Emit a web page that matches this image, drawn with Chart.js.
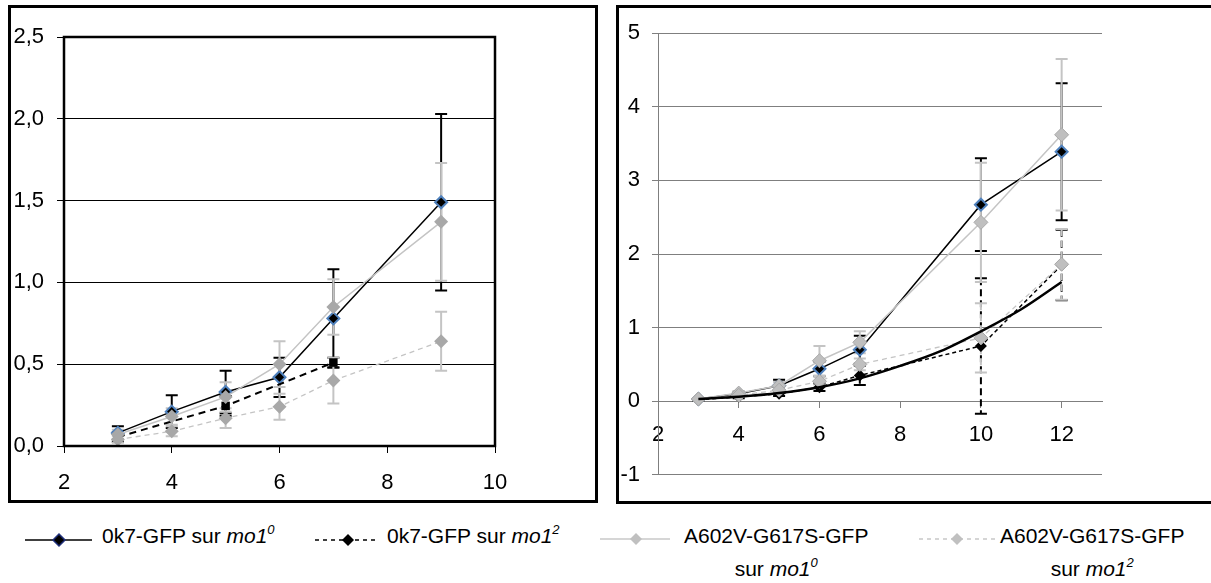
<!DOCTYPE html>
<html>
<head>
<meta charset="utf-8">
<script src="https://cdn.jsdelivr.net/npm/chart.js@4"></script>
<style>
    body { margin: 0; background: #fff; width: 1211px; height: 583px; overflow: hidden; position: relative;
           font-family: 'Liberation Sans', Arial, sans-serif; }
    .frame { position: absolute; border: 3px solid #000; box-sizing: border-box; z-index: 2; pointer-events: none; }
    canvas { position: absolute; }
    .lt { position: absolute; font-size: 21px; line-height: 26px; white-space: nowrap; color: #000; }
    .lt sup { font-size: 13px; vertical-align: 9px; line-height: 0; }
    .ls { position: absolute; }
</style>
</head>
<body>
<div class="frame" style="left:8px;top:5px;width:590px;height:498px"></div>
<div class="frame" style="left:616px;top:5px;width:600px;height:499px"></div>
<canvas id="leftChart" width="584" height="492" style="left:10px;top:8px"></canvas>
<canvas id="rightChart" width="597" height="492" style="left:614px;top:8px"></canvas>

<!-- Légende -->
<svg class="ls" style="left:25px;top:528px" width="70" height="24">
    <line x1="0" y1="12" x2="67" y2="12" stroke="#000" stroke-width="1.5"/>
    <polygon points="28,12 34,6 40,12 34,18" fill="#000" stroke="#1f2f7a" stroke-width="1.5"/>
</svg>
<div class="lt" style="left:102px;top:523px">0k7-GFP sur <i>mo1<sup>0</sup></i></div>

<svg class="ls" style="left:315px;top:528px" width="70" height="24">
    <line x1="0" y1="12" x2="64" y2="12" stroke="#000" stroke-width="1.5" stroke-dasharray="4,4"/>
    <polygon points="27,12 33,6 39,12 33,18" fill="#000"/>
</svg>
<div class="lt" style="left:387px;top:523px">0k7-GFP sur <i>mo1<sup>2</sup></i></div>

<svg class="ls" style="left:600px;top:527px" width="72" height="24">
    <line x1="0" y1="12" x2="70" y2="12" stroke="#c8c8c8" stroke-width="1.5"/>
    <polygon points="30,12 36,6 42,12 36,18" fill="#c0c0c0"/>
</svg>
<div class="lt" style="left:684px;top:519px;text-align:center;line-height:33px">A602V-G617S-GFP<br>sur <i>mo1<sup>0</sup></i></div>

<svg class="ls" style="left:919px;top:527px" width="80" height="24">
    <line x1="0" y1="12" x2="77" y2="12" stroke="#c8c8c8" stroke-width="1.5" stroke-dasharray="4,4"/>
    <polygon points="32,12 38,6 44,12 38,18" fill="#c0c0c0"/>
</svg>
<div class="lt" style="left:1000px;top:519px;text-align:center;line-height:33px">A602V-G617S-GFP<br>sur <i>mo1<sup>2</sup></i></div>

<script>
// Données du graphique de gauche
const leftX = [3, 4, 5, 6, 7, 9];
const leftOk7Mo0 = [0.08, 0.21, 0.33, 0.42, 0.78, 1.49];
const leftOk7Mo0Err = [0.04, 0.10, 0.13, 0.12, 0.30, 0.54];
const leftOk7Mo2X = [3, 5, 7];
const leftOk7Mo2 = [0.055, 0.245, 0.51];
const leftOk7Mo2Err = [0.03, 0.06, 0.03];
const leftMutMo0 = [0.07, 0.18, 0.30, 0.50, 0.85, 1.37];
const leftMutMo0Err = [0.03, 0.05, 0.09, 0.14, 0.17, 0.36];
const leftMutMo2 = [0.04, 0.09, 0.17, 0.24, 0.40, 0.64];
const leftMutMo2Err = [0.02, 0.03, 0.06, 0.08, 0.14, 0.18];

// Données du graphique de droite
const rightX = [3, 4, 5, 6, 7, 10, 12];
const rightOk7Mo0 = [0.03, 0.10, 0.21, 0.44, 0.70, 2.67, 3.39];
const rightOk7Mo0Err = [0.01, 0.03, 0.08, 0.10, 0.19, 0.63, 0.93];
const rightOk7Mo2 = [0.02, 0.06, 0.10, 0.19, 0.35, 0.75, 1.85];
const rightOk7Mo2Err = [0.01, 0.02, 0.03, 0.05, 0.13, 0.92, 0.48];
const rightMutMo0 = [0.03, 0.11, 0.21, 0.55, 0.80, 2.43, 3.62];
const rightMutMo0Err = [0.01, 0.03, 0.05, 0.20, 0.15, 0.81, 1.03];
const rightMutMo2 = [0.03, 0.08, 0.15, 0.27, 0.50, 0.86, 1.86];
const rightMutMo2Err = [0.01, 0.02, 0.04, 0.07, 0.08, 0.47, 0.48];
// Courbe de tendance
const trendX = [3, 4, 5, 6, 7, 8, 9, 10, 11, 12];
const trendY = [0.03, 0.06, 0.11, 0.19, 0.31, 0.48, 0.68, 0.95, 1.25, 1.62];

Chart.defaults.font.family = "'Liberation Sans', Arial, sans-serif";
Chart.defaults.font.size = 22;
Chart.defaults.color = '#000';

// Barres d'erreur dessinées avec les échelles du graphique
const errorBars = {
    id: 'errorBars',
    beforeDatasetsDraw(chart) {
        const { ctx, scales: { x, y } } = chart;
        chart.data.datasets.forEach(ds => {
            if (!ds.errors) return;
            ctx.save();
            ctx.strokeStyle = ds.errorColor;
            ctx.lineWidth = ds.errorWidth || 2;
            ds.data.forEach((p, j) => {
                const e = ds.errors[j];
                if (!e) return;
                const px = x.getPixelForValue(p.x);
                const top = y.getPixelForValue(p.y + e);
                const bot = y.getPixelForValue(p.y - e);
                ctx.setLineDash(ds.errorDash || []);
                ctx.beginPath();
                ctx.moveTo(px, top);
                ctx.lineTo(px, bot);
                ctx.stroke();
                ctx.setLineDash([]);
                ctx.beginPath();
                ctx.moveTo(px - 6, top); ctx.lineTo(px + 6, top);
                ctx.moveTo(px - 6, bot); ctx.lineTo(px + 6, bot);
                ctx.stroke();
            });
            ctx.restore();
        });
    }
};

// Cadre épais autour de la zone de tracé (graphique de gauche)
const plotFrame = {
    id: 'plotFrame',
    afterDraw(chart) {
        const { ctx, chartArea: a } = chart;
        ctx.save();
        ctx.strokeStyle = '#000';
        ctx.lineWidth = 2.5;
        ctx.strokeRect(a.left, a.top, a.right - a.left, a.bottom - a.top);
        ctx.restore();
    }
};

function points(xs, ys) {
    return xs.map((x, i) => ({ x: x, y: ys[i] }));
}

function series(xs, ys, errs, style) {
    return Object.assign({
        data: points(xs, ys),
        errors: errs,
        fill: false,
        tension: 0,
        pointRadius: 6,
        pointBorderWidth: 0
    }, style);
}

const ok7Mo0Style = {
    borderColor: '#000', borderWidth: 1.5,
    pointStyle: 'rectRot', pointBackgroundColor: '#000', pointBorderColor: '#4f81bd', pointBorderWidth: 2,
    errorColor: '#000', order: 4
};
const mutMo0Style = {
    borderColor: '#c4c4c4', borderWidth: 1.5,
    pointStyle: 'rectRot', pointRadius: 7, pointBackgroundColor: '#a8a8a8', pointBorderColor: '#a8a8a8',
    errorColor: '#c4c4c4', order: 2
};
const mutMo2Style = {
    borderColor: '#c4c4c4', borderWidth: 1.3, borderDash: [5, 4],
    pointStyle: 'rectRot', pointRadius: 7, pointBackgroundColor: '#a8a8a8', pointBorderColor: '#a8a8a8',
    errorColor: '#c4c4c4', order: 1
};

function initLeftChart() {
    const ctx = document.getElementById('leftChart').getContext('2d');
    new Chart(ctx, {
        type: 'line',
        data: {
            datasets: [
                series(leftX, leftOk7Mo0, leftOk7Mo0Err, ok7Mo0Style),
                series(leftOk7Mo2X, leftOk7Mo2, leftOk7Mo2Err, {
                    borderColor: '#000', borderWidth: 2, borderDash: [7, 5],
                    pointStyle: 'rect', pointRadius: 6, pointBackgroundColor: '#000', pointBorderColor: '#000',
                    errorColor: '#000', order: 3
                }),
                series(leftX, leftMutMo0, leftMutMo0Err, mutMo0Style),
                series(leftX, leftMutMo2, leftMutMo2Err, mutMo2Style)
            ]
        },
        options: {
            responsive: false,
            animation: false,
            layout: { padding: { top: 29, right: 99, left: 0, bottom: 0 } },
            plugins: { legend: { display: false }, tooltip: { enabled: false } },
            scales: {
                x: {
                    type: 'linear', min: 2, max: 10,
                    ticks: { stepSize: 2, padding: 17 },
                    grid: { drawOnChartArea: false, color: '#000', tickLength: 7 },
                    border: { display: false },
                    afterFit: s => { s.height = 54; }
                },
                y: {
                    min: 0, max: 2.5,
                    ticks: { stepSize: 0.5, padding: 13, callback: v => v.toFixed(1).replace('.', ',') },
                    grid: { color: '#000', tickLength: 7 },
                    border: { display: false },
                    afterFit: s => { s.width = 54; }
                }
            }
        },
        plugins: [errorBars, plotFrame]
    });
}

function initRightChart() {
    const ctx = document.getElementById('rightChart').getContext('2d');
    new Chart(ctx, {
        type: 'line',
        data: {
            datasets: [
                series(rightX, rightOk7Mo0, rightOk7Mo0Err, ok7Mo0Style),
                series(rightX, rightOk7Mo2, rightOk7Mo2Err, {
                    borderColor: '#000', borderWidth: 1.5, borderDash: [4, 3],
                    pointStyle: 'rectRot', pointBackgroundColor: '#000', pointBorderColor: '#000',
                    errorColor: '#000', errorDash: [7, 4], order: 3
                }),
                series(rightX, rightMutMo0, rightMutMo0Err, Object.assign({}, mutMo0Style, {
                    pointBackgroundColor: '#bfbfbf', pointBorderColor: '#a8a8a8', pointBorderWidth: 1
                })),
                series(rightX, rightMutMo2, rightMutMo2Err, Object.assign({}, mutMo2Style, {
                    pointBackgroundColor: '#bfbfbf', pointBorderColor: '#a8a8a8', pointBorderWidth: 1,
                    errorDash: [7, 4]
                })),
                {
                    data: points(trendX, trendY),
                    borderColor: '#000', borderWidth: 2.5,
                    pointRadius: 0, fill: false,
                    cubicInterpolationMode: 'monotone', order: 0
                }
            ]
        },
        options: {
            responsive: false,
            animation: false,
            layout: { padding: { top: 19, right: 109, left: 0, bottom: 13 } },
            plugins: { legend: { display: false }, tooltip: { enabled: false } },
            scales: {
                x: {
                    type: 'linear', min: 2, max: 13,
                    position: { y: 0 },
                    ticks: { stepSize: 2, padding: 15, includeBounds: false },
                    grid: { drawOnChartArea: false, color: '#7f7f7f', tickLength: 6 },
                    border: { display: true, color: '#7f7f7f' }
                },
                y: {
                    min: -1, max: 5,
                    ticks: { stepSize: 1, padding: 12 },
                    grid: { color: '#7f7f7f', tickLength: 6 },
                    border: { display: true, color: '#7f7f7f' },
                    afterFit: s => { s.width = 44; }
                }
            }
        },
        plugins: [errorBars]
    });
}

document.addEventListener('DOMContentLoaded', () => {
    initLeftChart();
    initRightChart();
});
</script>
</body>
</html>
